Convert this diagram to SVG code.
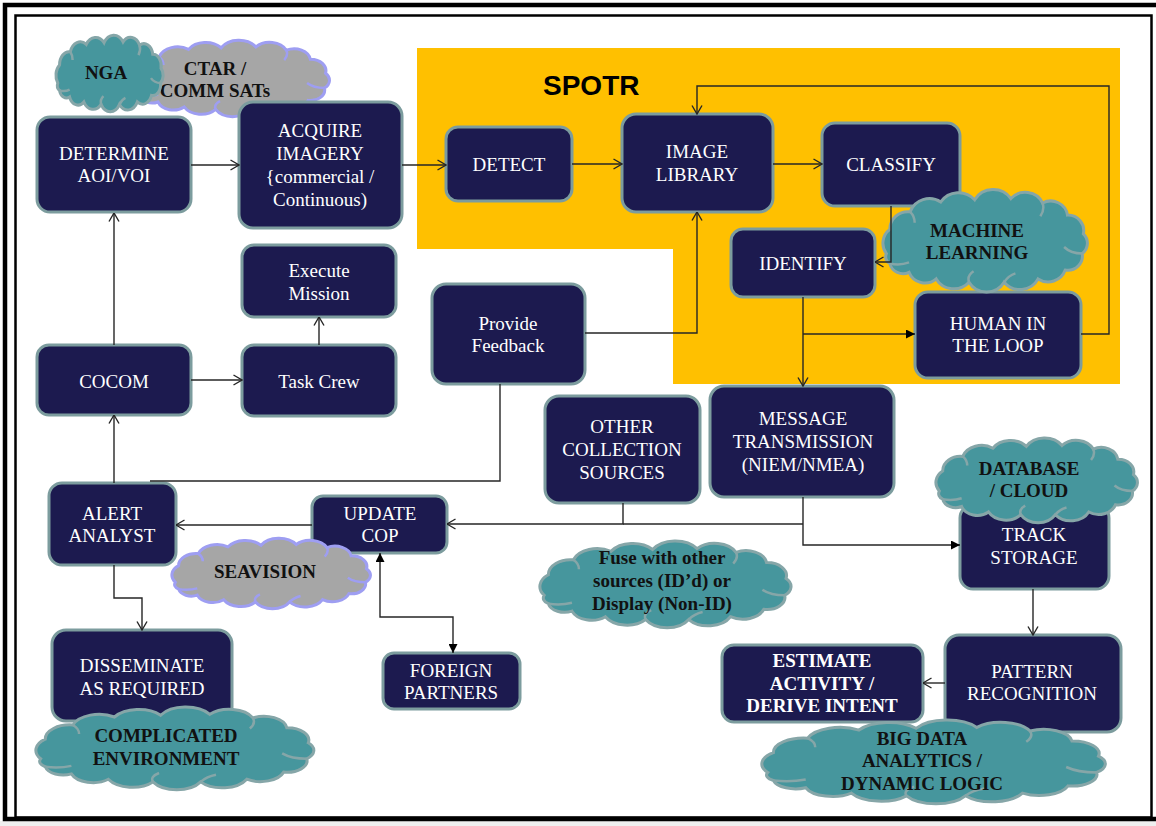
<svg xmlns="http://www.w3.org/2000/svg" xmlns:xlink="http://www.w3.org/1999/xlink" width="1156" height="826" viewBox="0 0 1156 826">
  <defs>
    <style>
      .box { fill: #1c1a4f; stroke: #7c9c9e; stroke-width: 3; }
      .t { font-family: "Liberation Serif", "Times New Roman", serif; font-size: 19px; fill: #ffffff; text-anchor: middle; }
      .tb { font-family: "Liberation Serif", "Times New Roman", serif; font-size: 19px; font-weight: bold; fill: #111111; text-anchor: middle; }
      .tw { font-family: "Liberation Serif", "Times New Roman", serif; font-size: 19px; font-weight: bold; fill: #ffffff; text-anchor: middle; }
      .teal { fill: #46969d; stroke: #86a6a8; }
      .grey { fill: #a6a6a6; stroke: #9e9ef2; }
      .wire { fill: none; stroke: #262626; stroke-width: 1.4; }
      .open { marker-end: url(#arrOpen); }
      .solid { marker-end: url(#arrFill); }
    </style>
    <marker id="arrOpen" viewBox="0 0 10 12" refX="9.5" refY="6" markerWidth="10" markerHeight="12" markerUnits="userSpaceOnUse" orient="auto">
      <path d="M1,1 L9.5,6 L1,11" fill="none" stroke="#262626" stroke-width="1.4"/>
    </marker>
    <marker id="arrFill" viewBox="0 0 10 10" refX="10" refY="5" markerWidth="9" markerHeight="9" markerUnits="userSpaceOnUse" orient="auto-start-reverse">
      <path d="M0,0 L10,5 L0,10 z" fill="#000"/>
    </marker>
    <!-- bumpy cloud outline, stretched to each cloud's box -->
    <symbol id="cloud" viewBox="9 6 182 90" preserveAspectRatio="none" overflow="visible">
      <path vector-effect="non-scaling-stroke" stroke-width="3"
        d="M12,62 A16,16 0 0 1 15,40 A16,16 0 0 1 33,24 A18,18 0 0 1 60,15 A19,19 0 0 1 90,13 A19,19 0 0 1 122,12 A17,17 0 0 1 150,16 A15,15 0 0 1 172,27 A14,14 0 0 1 186,44 A12,12 0 0 1 185,62 A13,13 0 0 1 170,77 A16,16 0 0 1 146,85 A18,18 0 0 1 116,88 A18,18 0 0 1 85,88 A18,18 0 0 1 56,85 A15,15 0 0 1 32,79 A12,12 0 0 1 15,71 A7,7 0 0 1 12,62 Z"/>
      <path vector-effect="non-scaling-stroke" stroke-width="2.5" fill="none"
        d="M15,71 Q24,73 32,70 M85,88 Q83,82 89,78 M185,62 Q175,62 169,56 M150,16 Q152,22 148,28 M33,24 Q37,28 37,34 M116,88 Q120,82 126,80"/>
    </symbol>
  </defs>

  <!-- page and frame -->
  <rect x="0" y="0" width="1156" height="826" fill="#ffffff"/>
  <rect x="0" y="821" width="1156" height="5" fill="#efefef"/>
  <rect x="5" y="5" width="1160" height="814" fill="none" stroke="#000" stroke-width="4.5"/>
  <rect x="15.5" y="15.5" width="1136" height="802" fill="none" stroke="#000" stroke-width="2.5"/>

  <!-- SPOTR region -->
  <g id="spotr">
    <path d="M417,48 H1120 V384 H673 V249 H417 Z" fill="#ffc000"/>
    <text x="543" y="95" font-family="'Liberation Sans', Arial, sans-serif" font-size="28" font-weight="bold" fill="#000">SPOTR</text>
  </g>

  <!-- source clouds -->
  <g id="ctar">
    <use xlink:href="#cloud" href="#cloud" class="grey" x="133" y="42" width="198" height="74"/>
    <text class="tb" x="215" y="75">CTAR /</text>
    <text class="tb" x="215" y="97">COMM SATs</text>
  </g>
  <g id="nga">
    <use xlink:href="#cloud" href="#cloud" class="teal" x="56" y="37" width="108" height="74"/>
    <text class="tb" x="106" y="79">NGA</text>
  </g>

  <!-- process nodes -->
  <g id="determine">
    <rect class="box" x="37" y="117" width="154" height="95" rx="13"/>
    <text class="t" x="114" y="160">DETERMINE</text>
    <text class="t" x="114" y="182">AOI/VOI</text>
  </g>
  <g id="acquire">
    <rect class="box" x="239" y="102" width="163" height="126" rx="14"/>
    <text class="t" x="320" y="137">ACQUIRE</text>
    <text class="t" x="320" y="160">IMAGERY</text>
    <text class="t" x="320" y="183">{commercial /</text>
    <text class="t" x="320" y="206">Continuous)</text>
  </g>
  <g id="detect">
    <rect class="box" x="446" y="127" width="126" height="74" rx="12"/>
    <text class="t" x="509" y="171">DETECT</text>
  </g>
  <g id="image-library">
    <rect class="box" x="622" y="114" width="151" height="98" rx="14"/>
    <text class="t" x="697" y="158">IMAGE</text>
    <text class="t" x="697" y="181">LIBRARY</text>
  </g>
  <g id="classify">
    <rect class="box" x="822" y="123" width="138" height="83" rx="13"/>
    <text class="t" x="891" y="171">CLASSIFY</text>
  </g>
  <g id="identify">
    <rect class="box" x="731" y="229" width="144" height="68" rx="12"/>
    <text class="t" x="803" y="270">IDENTIFY</text>
  </g>
  <g id="human-loop">
    <rect class="box" x="915" y="292" width="166" height="86" rx="13"/>
    <text class="t" x="998" y="330">HUMAN IN</text>
    <text class="t" x="998" y="352">THE LOOP</text>
  </g>
  <g id="execute-mission">
    <rect class="box" x="242" y="245" width="154" height="72" rx="12"/>
    <text class="t" x="319" y="277">Execute</text>
    <text class="t" x="319" y="300">Mission</text>
  </g>
  <g id="task-crew">
    <rect class="box" x="242" y="345" width="154" height="71" rx="12"/>
    <text class="t" x="319" y="388">Task Crew</text>
  </g>
  <g id="provide-feedback">
    <rect class="box" x="432" y="284" width="153" height="100" rx="14"/>
    <text class="t" x="508" y="330">Provide</text>
    <text class="t" x="508" y="352">Feedback</text>
  </g>
  <g id="cocom">
    <rect class="box" x="37" y="345" width="154" height="70" rx="12"/>
    <text class="t" x="114" y="388">COCOM</text>
  </g>
  <g id="other-sources">
    <rect class="box" x="545" y="396" width="155" height="107" rx="14"/>
    <text class="t" x="622" y="433">OTHER</text>
    <text class="t" x="622" y="456">COLLECTION</text>
    <text class="t" x="622" y="479">SOURCES</text>
  </g>
  <g id="message-transmission">
    <rect class="box" x="710" y="386" width="184" height="111" rx="14"/>
    <text class="t" x="803" y="425">MESSAGE</text>
    <text class="t" x="803" y="448">TRANSMISSION</text>
    <text class="t" x="803" y="471">(NIEM/NMEA)</text>
  </g>
  <g id="alert-analyst">
    <rect class="box" x="49" y="483" width="127" height="82" rx="13"/>
    <text class="t" x="112" y="520">ALERT</text>
    <text class="t" x="112" y="542">ANALYST</text>
  </g>
  <g id="update-cop">
    <rect class="box" x="312" y="496" width="135" height="57" rx="11"/>
    <text class="t" x="380" y="520">UPDATE</text>
    <text class="t" x="380" y="542">COP</text>
  </g>
  <g id="track-storage">
    <rect class="box" x="960" y="505" width="149" height="84" rx="13"/>
    <text class="t" x="1034" y="541">TRACK</text>
    <text class="t" x="1034" y="564">STORAGE</text>
  </g>
  <g id="pattern-recognition">
    <rect class="box" x="945" y="635" width="176" height="97" rx="14"/>
    <text class="t" x="1032" y="678">PATTERN</text>
    <text class="t" x="1032" y="700">RECOGNITION</text>
  </g>
  <g id="estimate-activity">
    <rect class="box" x="722" y="645" width="201" height="77" rx="12"/>
    <text class="tw" x="822" y="667">ESTIMATE</text>
    <text class="tw" x="822" y="690">ACTIVITY /</text>
    <text class="tw" x="822" y="712">DERIVE INTENT</text>
  </g>
  <g id="disseminate">
    <rect class="box" x="52" y="630" width="180" height="91" rx="14"/>
    <text class="t" x="142" y="672">DISSEMINATE</text>
    <text class="t" x="142" y="695">AS REQUIRED</text>
  </g>
  <g id="foreign-partners">
    <rect class="box" x="383" y="653" width="137" height="56" rx="11"/>
    <text class="t" x="451" y="677">FOREIGN</text>
    <text class="t" x="451" y="699">PARTNERS</text>
  </g>

  <!-- annotation clouds -->
  <g id="machine-learning">
    <use xlink:href="#cloud" href="#cloud" class="teal" x="883" y="192" width="206" height="99"/>
    <text class="tb" x="977" y="237">MACHINE</text>
    <text class="tb" x="977" y="259">LEARNING</text>
  </g>
  <g id="seavision">
    <use xlink:href="#cloud" href="#cloud" class="grey" x="172" y="540" width="200" height="68"/>
    <text class="tb" x="265" y="578">SEAVISION</text>
  </g>
  <g id="fuse">
    <use xlink:href="#cloud" href="#cloud" class="teal" x="540" y="543" width="253" height="84"/>
    <text class="tb" x="662" y="564">Fuse with other</text>
    <text class="tb" x="662" y="587">sources (ID’d) or</text>
    <text class="tb" x="662" y="610">Display (Non-ID)</text>
  </g>
  <g id="database-cloud">
    <use xlink:href="#cloud" href="#cloud" class="teal" x="936" y="440" width="203" height="82"/>
    <text class="tb" x="1029" y="475">DATABASE</text>
    <text class="tb" x="1029" y="497">/ CLOUD</text>
  </g>
  <g id="big-data">
    <use xlink:href="#cloud" href="#cloud" class="teal" x="762" y="722" width="346" height="81"/>
    <text class="tb" x="922" y="745">BIG DATA</text>
    <text class="tb" x="922" y="767">ANALYTICS /</text>
    <text class="tb" x="922" y="790">DYNAMIC LOGIC</text>
  </g>
  <g id="complicated-environment">
    <use xlink:href="#cloud" href="#cloud" class="teal" x="36" y="709" width="280" height="80"/>
    <text class="tb" x="166" y="742">COMPLICATED</text>
    <text class="tb" x="166" y="765">ENVIRONMENT</text>
  </g>

  <!-- connectors -->
  <g id="connectors">
    <path class="wire open" d="M191,165 H239"/>
    <path class="wire open" d="M402,165 H446"/>
    <path class="wire open" d="M572,164 H622"/>
    <path class="wire open" d="M773,164 H822"/>
    <path class="wire open" d="M891,206 V262 H875"/>
    <path class="wire open" d="M803,297 V386"/>
    <path class="wire solid" d="M803,334 H915"/>
    <path class="wire open" d="M1081,334 H1109 V86 H697 V114"/>
    <path class="wire open" d="M585,333 H697 V212"/>
    <path class="wire" d="M500,384 V481 H150"/>
    <path class="wire open" d="M114,483 V415"/>
    <path class="wire open" d="M114,345 V213"/>
    <path class="wire open" d="M191,380 H242"/>
    <path class="wire open" d="M319,345 V317"/>
    <path class="wire open" d="M312,525 H176"/>
    <path class="wire open" d="M114,565 V598 H142 V630"/>
    <path class="wire open" d="M623,503 V524 H447"/>
    <path class="wire" d="M803,524 H623"/>
    <path class="wire solid" d="M803,497 V545 H960"/>
    <path class="wire solid" d="M453,653 V617 H380 V553" marker-start="url(#arrFill)"/>
    <path class="wire open" d="M1033,589 V635"/>
    <path class="wire open" d="M945,683 H923"/>
  </g>
</svg>
